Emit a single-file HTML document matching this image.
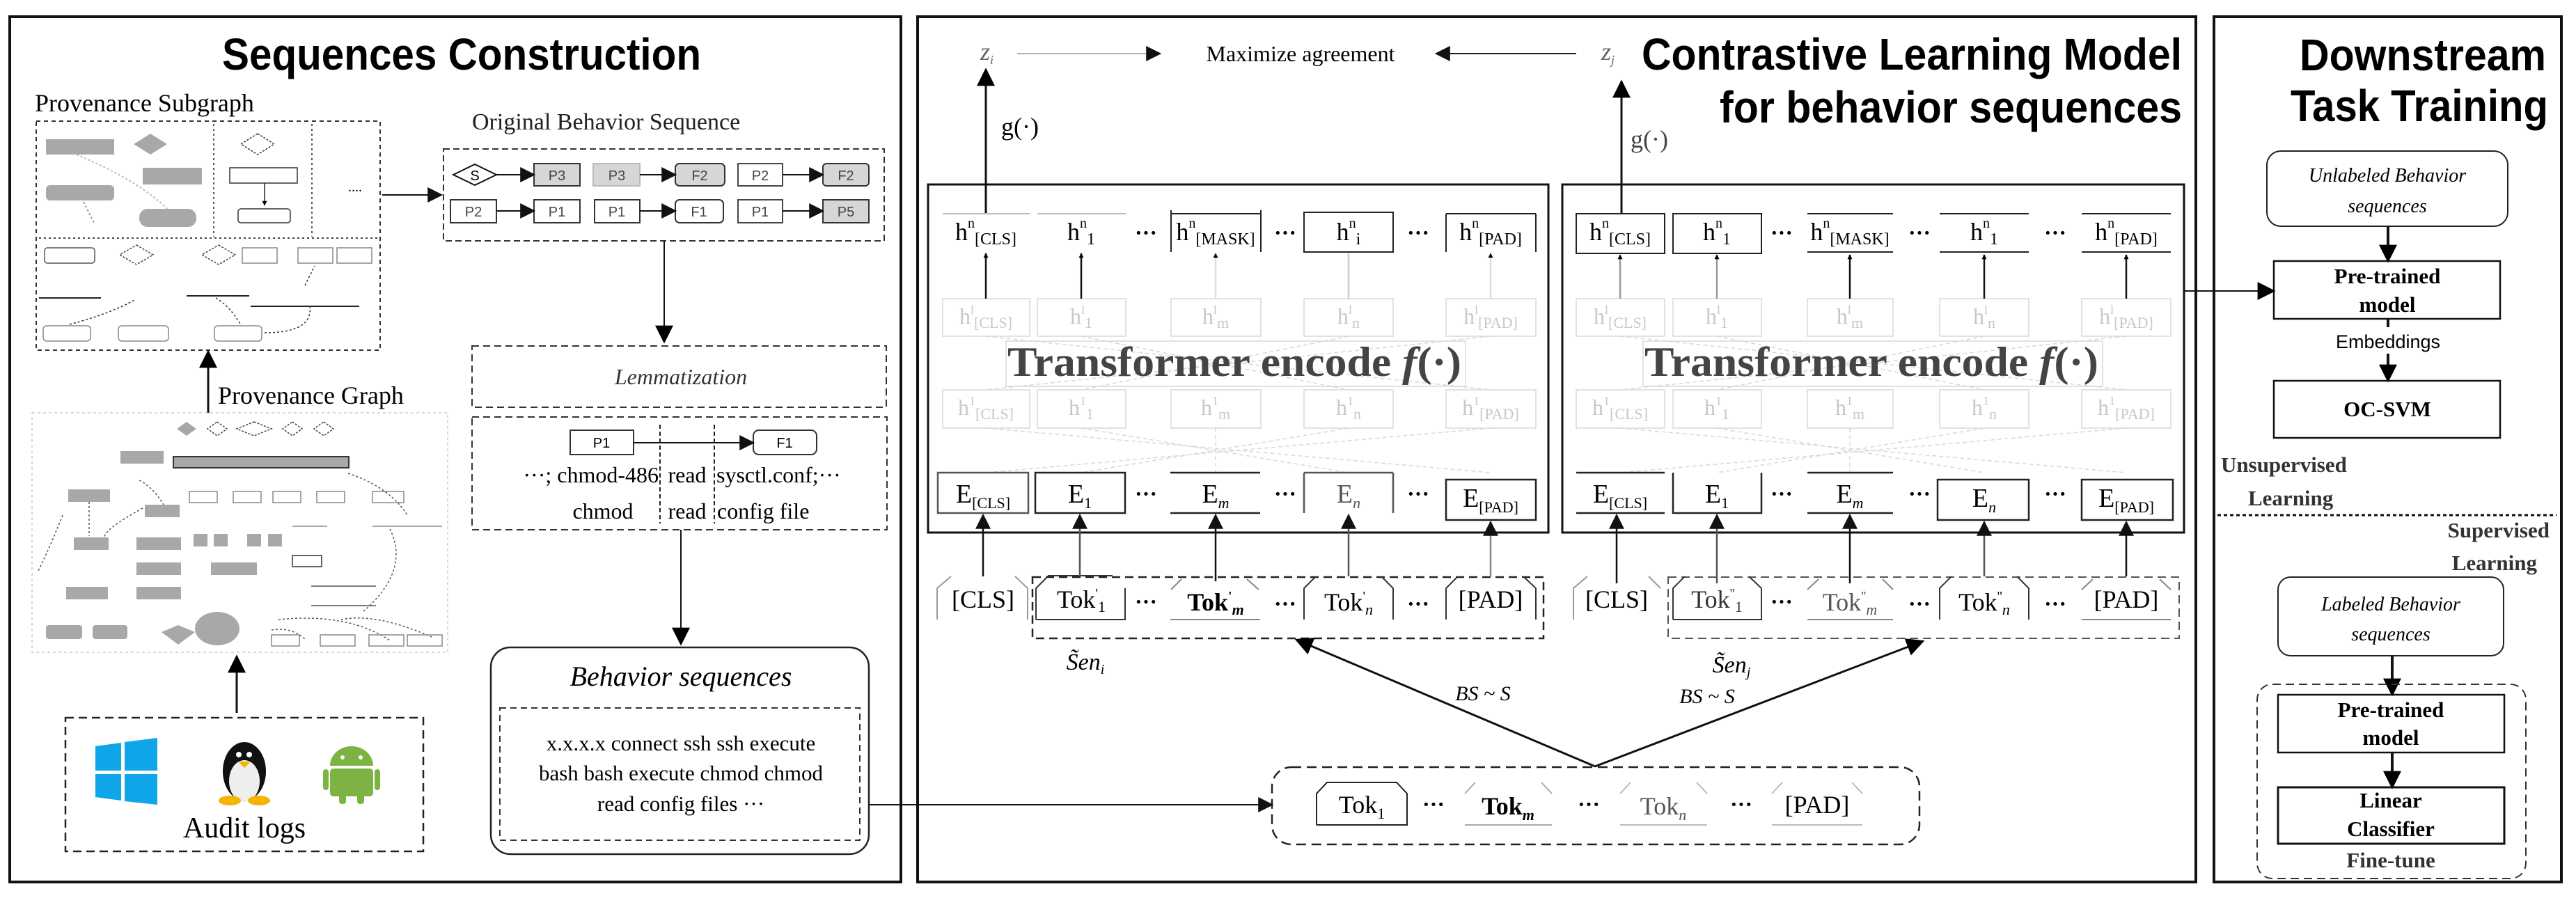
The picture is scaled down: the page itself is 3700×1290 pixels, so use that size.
<!DOCTYPE html>
<html><head><meta charset="utf-8"><style>
html,body{margin:0;padding:0;background:#fff}
svg{display:block}
.s{font-family:"Liberation Serif",serif}
.a{font-family:"Liberation Sans",sans-serif}
</style></head><body>
<svg width="3700" height="1290" viewBox="0 0 3700 1290" xmlns="http://www.w3.org/2000/svg">
<defs>
<marker id="ar" viewBox="0 0 10 10" refX="9" refY="5" markerWidth="7" markerHeight="7" markerUnits="userSpaceOnUse" orient="auto"><path d="M0,0L10,5L0,10z" fill="#000"/></marker>
<marker id="ab" viewBox="0 0 10 10" refX="9" refY="5" markerWidth="26" markerHeight="26" markerUnits="userSpaceOnUse" orient="auto"><path d="M0,0L10,5L0,10z" fill="#000"/></marker>
<marker id="ag" viewBox="0 0 10 10" refX="9" refY="5" markerWidth="22" markerHeight="22" markerUnits="userSpaceOnUse" orient="auto"><path d="M0,0L10,5L0,10z" fill="#111"/></marker>
</defs>
<rect width="3700" height="1290" fill="#fff"/>

<!-- PANELS -->
<rect x="14" y="24" width="1280" height="1243" fill="none" stroke="#111" stroke-width="4"/>
<rect x="1318" y="24" width="1836" height="1243" fill="none" stroke="#111" stroke-width="4"/>
<rect x="3180" y="24" width="499" height="1243" fill="none" stroke="#111" stroke-width="4"/>

<!-- ============ PANEL 1 ============ -->
<text x="663" y="100" class="a" font-size="64" font-weight="bold" text-anchor="middle" textLength="688" lengthAdjust="spacingAndGlyphs">Sequences Construction</text>

<text x="50" y="160" class="s" font-size="36">Provenance Subgraph</text>
<rect x="52" y="174" width="494" height="329" fill="none" stroke="#333" stroke-width="2" stroke-dasharray="6,5"/>
<line x1="307" y1="178" x2="307" y2="340" stroke="#555" stroke-width="2" stroke-dasharray="3,4"/>
<line x1="448" y1="178" x2="448" y2="340" stroke="#555" stroke-width="2" stroke-dasharray="3,4"/>
<line x1="56" y1="342" x2="544" y2="342" stroke="#444" stroke-width="2" stroke-dasharray="3,4"/>
<!-- subgraph shapes -->
<rect x="66" y="200" width="98" height="22" fill="#a8a8a8"/>
<polygon points="216,192 240,207 216,222 192,207" fill="#a8a8a8"/>
<rect x="205" y="241" width="85" height="24" fill="#a8a8a8"/>
<rect x="66" y="266" width="98" height="22" rx="6" fill="#a8a8a8"/>
<rect x="200" y="300" width="82" height="26" rx="12" fill="#a8a8a8"/>
<path d="M110,222 Q200,260 240,300" fill="none" stroke="#bbb" stroke-width="2" stroke-dasharray="3,3"/>
<path d="M120,290 Q130,310 135,320" fill="none" stroke="#999" stroke-width="2" stroke-dasharray="3,3"/>
<polygon points="370,192 394,207 370,222 346,207" fill="none" stroke="#333" stroke-width="1.5" stroke-dasharray="3,2"/>
<rect x="330" y="241" width="97" height="22" fill="none" stroke="#333" stroke-width="1.5"/>
<line x1="380" y1="263" x2="380" y2="295" stroke="#222" stroke-width="1.5" marker-end="url(#ar)"/>
<rect x="342" y="300" width="75" height="20" rx="4" fill="none" stroke="#333" stroke-width="1.5"/>
<text x="500" y="275" class="s" font-size="20">....</text>
<rect x="64" y="356" width="72" height="22" rx="4" fill="none" stroke="#555" stroke-width="1.5"/>
<polygon points="196,352 220,366 196,380 172,366" fill="none" stroke="#444" stroke-width="1.5" stroke-dasharray="3,2"/>
<polygon points="314,352 338,366 314,380 290,366" fill="none" stroke="#444" stroke-width="1.5" stroke-dasharray="3,2"/>
<rect x="348" y="356" width="50" height="22" fill="none" stroke="#888" stroke-width="1.5"/>
<rect x="428" y="356" width="50" height="22" fill="none" stroke="#888" stroke-width="1.5"/>
<rect x="484" y="356" width="50" height="22" fill="none" stroke="#888" stroke-width="1.5"/>
<line x1="56" y1="428" x2="145" y2="428" stroke="#222" stroke-width="2"/>
<line x1="268" y1="425" x2="358" y2="425" stroke="#222" stroke-width="2"/>
<line x1="360" y1="440" x2="516" y2="440" stroke="#222" stroke-width="2"/>
<rect x="62" y="468" width="68" height="22" rx="5" fill="none" stroke="#888" stroke-width="1.5"/>
<rect x="170" y="468" width="72" height="22" rx="5" fill="none" stroke="#888" stroke-width="1.5"/>
<rect x="308" y="468" width="68" height="22" rx="5" fill="none" stroke="#888" stroke-width="1.5"/>
<path d="M100,466 Q160,450 195,430" fill="none" stroke="#333" stroke-width="1.5" stroke-dasharray="3,3"/>
<path d="M380,478 Q450,478 445,440" fill="none" stroke="#333" stroke-width="1.5" stroke-dasharray="3,3"/>
<path d="M310,428 Q330,440 345,465" fill="none" stroke="#333" stroke-width="1.5" stroke-dasharray="3,3"/>
<line x1="438" y1="410" x2="452" y2="382" stroke="#333" stroke-width="1.5" stroke-dasharray="3,3"/>

<line x1="549" y1="280" x2="634" y2="280" stroke="#111" stroke-width="2" marker-end="url(#ag)"/>

<text x="678" y="186" class="s" font-size="34" fill="#222">Original Behavior Sequence</text>
<rect x="637" y="214" width="633" height="132" fill="none" stroke="#333" stroke-width="2" stroke-dasharray="9,5"/>
<!-- row1 -->
<polygon points="651,251 682,236 713,251 682,266" fill="none" stroke="#111" stroke-width="2"/>
<text x="682" y="259" class="a" font-size="20" text-anchor="middle">S</text>
<rect x="767" y="235" width="66" height="32" fill="#d6d6d6" stroke="#333" stroke-width="2"/><text x="800" y="259" class="a" font-size="20" text-anchor="middle" fill="#444">P3</text>
<rect x="852" y="235" width="67" height="32" fill="#d6d6d6" stroke="#bbb" stroke-width="2"/><text x="886" y="259" class="a" font-size="20" text-anchor="middle" fill="#444">P3</text>
<rect x="970" y="235" width="71" height="32" rx="6" fill="#d6d6d6" stroke="#333" stroke-width="2"/><text x="1005" y="259" class="a" font-size="20" text-anchor="middle" fill="#444">F2</text>
<rect x="1060" y="235" width="64" height="32" fill="#fff" stroke="#444" stroke-width="2"/><text x="1092" y="259" class="a" font-size="20" text-anchor="middle" fill="#444">P2</text>
<rect x="1182" y="235" width="66" height="32" rx="5" fill="#d6d6d6" stroke="#333" stroke-width="2"/><text x="1215" y="259" class="a" font-size="20" text-anchor="middle" fill="#444">F2</text>
<line x1="713" y1="251" x2="767" y2="251" stroke="#111" stroke-width="2" marker-end="url(#ag)"/>
<line x1="919" y1="251" x2="970" y2="251" stroke="#111" stroke-width="2" marker-end="url(#ag)"/>
<line x1="1124" y1="251" x2="1182" y2="251" stroke="#111" stroke-width="2" marker-end="url(#ag)"/>
<!-- row2 -->
<rect x="647" y="287" width="66" height="33" fill="#fff" stroke="#333" stroke-width="2"/><text x="680" y="311" class="a" font-size="20" text-anchor="middle" fill="#444">P2</text>
<rect x="767" y="287" width="66" height="33" fill="#fff" stroke="#333" stroke-width="2"/><text x="800" y="311" class="a" font-size="20" text-anchor="middle" fill="#444">P1</text>
<rect x="854" y="287" width="65" height="33" fill="#fff" stroke="#333" stroke-width="2"/><text x="886" y="311" class="a" font-size="20" text-anchor="middle" fill="#444">P1</text>
<rect x="970" y="287" width="69" height="33" rx="6" fill="#fff" stroke="#333" stroke-width="2"/><text x="1004" y="311" class="a" font-size="20" text-anchor="middle" fill="#444">F1</text>
<rect x="1060" y="287" width="64" height="33" fill="#fff" stroke="#444" stroke-width="2"/><text x="1092" y="311" class="a" font-size="20" text-anchor="middle" fill="#444">P1</text>
<rect x="1182" y="287" width="66" height="33" fill="#d6d6d6" stroke="#333" stroke-width="2"/><text x="1215" y="311" class="a" font-size="20" text-anchor="middle" fill="#444">P5</text>
<line x1="713" y1="303" x2="767" y2="303" stroke="#111" stroke-width="2" marker-end="url(#ag)"/>
<line x1="919" y1="303" x2="970" y2="303" stroke="#111" stroke-width="2" marker-end="url(#ag)"/>
<line x1="1124" y1="303" x2="1182" y2="303" stroke="#111" stroke-width="2" marker-end="url(#ag)"/>

<line x1="954" y1="346" x2="954" y2="491" stroke="#111" stroke-width="2" marker-end="url(#ab)"/>

<rect x="678" y="497" width="595" height="88" fill="none" stroke="#333" stroke-width="2" stroke-dasharray="10,6"/>
<text x="978" y="552" class="s" font-size="32" font-style="italic" text-anchor="middle" fill="#333">Lemmatization</text>
<rect x="678" y="599" width="596" height="162" fill="none" stroke="#333" stroke-width="2" stroke-dasharray="10,6"/>
<rect x="819" y="618" width="91" height="35" fill="#fff" stroke="#333" stroke-width="2"/><text x="864" y="643" class="a" font-size="20" text-anchor="middle">P1</text>
<rect x="1082" y="618" width="91" height="35" rx="8" fill="#fff" stroke="#333" stroke-width="2"/><text x="1127" y="643" class="a" font-size="20" text-anchor="middle">F1</text>
<line x1="910" y1="636" x2="1082" y2="636" stroke="#111" stroke-width="2" marker-end="url(#ag)"/>
<line x1="948" y1="610" x2="948" y2="752" stroke="#222" stroke-width="2" stroke-dasharray="6,4"/>
<line x1="1026" y1="610" x2="1026" y2="752" stroke="#222" stroke-width="2" stroke-dasharray="6,4"/>
<text x="946" y="693" class="s" font-size="32" text-anchor="end">···; chmod-486</text>
<text x="987" y="693" class="s" font-size="32" text-anchor="middle">read</text>
<text x="1029" y="693" class="s" font-size="32">sysctl.conf;···</text>
<text x="866" y="745" class="s" font-size="32" text-anchor="middle">chmod</text>
<text x="987" y="745" class="s" font-size="32" text-anchor="middle">read</text>
<text x="1030" y="745" class="s" font-size="32">config file</text>

<line x1="978" y1="761" x2="978" y2="925" stroke="#111" stroke-width="2" marker-end="url(#ab)"/>

<rect x="705" y="930" width="543" height="297" rx="28" fill="none" stroke="#222" stroke-width="2.5"/>
<text x="978" y="985" class="s" font-size="40" font-style="italic" text-anchor="middle">Behavior sequences</text>
<rect x="718" y="1017" width="517" height="190" fill="none" stroke="#333" stroke-width="2" stroke-dasharray="9,6"/>
<text x="978" y="1078" class="s" font-size="31" text-anchor="middle">x.x.x.x connect ssh ssh execute</text>
<text x="978" y="1121" class="s" font-size="31" text-anchor="middle">bash bash execute chmod chmod</text>
<text x="978" y="1165" class="s" font-size="31" text-anchor="middle">read config files ···</text>

<!-- provenance graph -->
<line x1="299" y1="593" x2="299" y2="505" stroke="#111" stroke-width="3" marker-end="url(#ab)"/>
<text x="313" y="580" class="s" font-size="36">Provenance Graph</text>
<rect x="46" y="593" width="597" height="344" fill="none" stroke="#ccc" stroke-width="1.5" stroke-dasharray="4,4"/>
<polygon points="268,606 282,616 268,626 254,616" fill="#a8a8a8"/>
<polygon points="312,606 326,616 312,626 298,616" fill="none" stroke="#444" stroke-width="1.5" stroke-dasharray="3,2"/>
<polygon points="365,606 390,616 365,626 340,616" fill="none" stroke="#444" stroke-width="1.5" stroke-dasharray="3,2"/>
<polygon points="420,606 434,616 420,626 406,616" fill="none" stroke="#444" stroke-width="1.5" stroke-dasharray="3,2"/>
<polygon points="465,606 479,616 465,626 451,616" fill="none" stroke="#444" stroke-width="1.5" stroke-dasharray="3,2"/>
<rect x="173" y="648" width="62" height="18" fill="#a8a8a8"/>
<rect x="249" y="656" width="252" height="16" fill="#a8a8a8" stroke="#333" stroke-width="2"/>
<rect x="98" y="703" width="60" height="18" fill="#a8a8a8"/>
<rect x="208" y="725" width="50" height="18" fill="#a8a8a8"/>
<rect x="106" y="772" width="50" height="18" fill="#a8a8a8"/>
<rect x="196" y="772" width="64" height="18" fill="#a8a8a8"/>
<rect x="196" y="808" width="64" height="18" fill="#a8a8a8"/>
<rect x="196" y="843" width="64" height="18" fill="#a8a8a8"/>
<rect x="95" y="843" width="60" height="18" fill="#a8a8a8"/>
<rect x="278" y="767" width="20" height="18" fill="#a8a8a8"/>
<rect x="307" y="767" width="20" height="18" fill="#a8a8a8"/>
<rect x="355" y="767" width="20" height="18" fill="#a8a8a8"/>
<rect x="385" y="767" width="20" height="18" fill="#a8a8a8"/>
<rect x="303" y="808" width="66" height="18" fill="#a8a8a8"/>
<rect x="66" y="898" width="52" height="20" rx="4" fill="#a8a8a8"/>
<rect x="133" y="898" width="50" height="20" rx="4" fill="#a8a8a8"/>
<polygon points="232,908 256,898 280,908 256,926" fill="#a8a8a8"/>
<ellipse cx="312" cy="903" rx="32" ry="24" fill="#a8a8a8"/>
<rect x="272" y="706" width="40" height="16" fill="none" stroke="#888" stroke-width="1.5"/>
<rect x="335" y="706" width="40" height="16" fill="none" stroke="#888" stroke-width="1.5"/>
<rect x="392" y="706" width="40" height="16" fill="none" stroke="#888" stroke-width="1.5"/>
<rect x="455" y="706" width="40" height="16" fill="none" stroke="#888" stroke-width="1.5"/>
<rect x="535" y="706" width="45" height="16" fill="none" stroke="#888" stroke-width="1.5"/>
<rect x="420" y="798" width="42" height="16" fill="none" stroke="#333" stroke-width="1.5"/>
<line x1="420" y1="756" x2="470" y2="756" stroke="#888" stroke-width="1.5"/>
<line x1="535" y1="756" x2="635" y2="756" stroke="#888" stroke-width="1.5"/>
<line x1="447" y1="842" x2="540" y2="842" stroke="#555" stroke-width="1.5"/>
<line x1="447" y1="870" x2="540" y2="870" stroke="#555" stroke-width="1.5"/>
<path d="M200,690 Q220,700 235,725 M128,721 L128,770 M205,730 Q150,760 150,772 M90,740 Q70,790 55,820 M500,680 Q560,700 585,740 M560,760 Q590,820 520,880" fill="none" stroke="#555" stroke-width="1.5" stroke-dasharray="3,3"/>
<path d="M390,905 Q420,900 440,920 M490,890 Q540,880 620,915 M400,890 Q500,880 560,920" fill="none" stroke="#555" stroke-width="1.5" stroke-dasharray="3,3"/>
<rect x="390" y="912" width="40" height="16" fill="none" stroke="#888" stroke-width="1.5"/>
<rect x="460" y="912" width="50" height="16" fill="none" stroke="#888" stroke-width="1.5"/>
<rect x="530" y="912" width="50" height="16" fill="none" stroke="#888" stroke-width="1.5"/>
<rect x="585" y="912" width="50" height="16" fill="none" stroke="#888" stroke-width="1.5"/>
<line x1="340" y1="1024" x2="340" y2="943" stroke="#111" stroke-width="3" marker-end="url(#ab)"/>

<rect x="94" y="1031" width="514" height="192" fill="none" stroke="#222" stroke-width="2.5" stroke-dasharray="12,7"/>
<!-- windows -->
<polygon points="137,1072 174,1067 174,1107 137,1107" fill="#0ea5e9"/>
<polygon points="179,1066 226,1060 226,1107 179,1107" fill="#0ea5e9"/>
<polygon points="137,1112 174,1112 174,1150 137,1145" fill="#0ea5e9"/>
<polygon points="179,1112 226,1112 226,1156 179,1151" fill="#0ea5e9"/>
<!-- penguin -->
<ellipse cx="351" cy="1108" rx="31" ry="42" fill="#111"/>
<ellipse cx="351" cy="1122" rx="22" ry="30" fill="#eee"/>
<circle cx="343" cy="1084" r="4" fill="#fff"/><circle cx="358" cy="1084" r="4" fill="#fff"/>
<polygon points="342,1094 360,1094 351,1103" fill="#f5b400"/>
<ellipse cx="330" cy="1150" rx="16" ry="7" fill="#f5b400"/>
<ellipse cx="372" cy="1150" rx="16" ry="7" fill="#f5b400"/>
<!-- android -->
<path d="M474,1100 A31,28 0 0 1 536,1100 Z" fill="#7cb342"/>
<rect x="474" y="1104" width="62" height="40" rx="5" fill="#7cb342"/>
<rect x="464" y="1105" width="8" height="30" rx="4" fill="#7cb342"/>
<rect x="538" y="1105" width="8" height="30" rx="4" fill="#7cb342"/>
<rect x="487" y="1140" width="10" height="15" rx="4" fill="#7cb342"/>
<rect x="513" y="1140" width="10" height="15" rx="4" fill="#7cb342"/>
<circle cx="492" cy="1088" r="3" fill="#fff"/><circle cx="518" cy="1088" r="3" fill="#fff"/>
<text x="351" y="1203" class="s" font-size="42" text-anchor="middle">Audit logs</text>

<!-- ============ PANEL 2 ============ -->
<text x="2358" y="100" class="a" font-size="64" font-weight="bold" textLength="776" lengthAdjust="spacingAndGlyphs">Contrastive Learning Model</text>
<text x="2470" y="176" class="a" font-size="64" font-weight="bold" textLength="664" lengthAdjust="spacingAndGlyphs">for behavior sequences</text>

<text x="1408" y="86" class="s" font-size="36" font-style="italic" fill="#666">z<tspan font-size="18" dy="6">i</tspan></text>
<line x1="1461" y1="77" x2="1666" y2="77" stroke="#999" stroke-width="1.5" marker-end="url(#ag)"/>
<text x="1868" y="88" class="s" font-size="32" text-anchor="middle">Maximize agreement</text>
<line x1="2264" y1="77" x2="2063" y2="77" stroke="#222" stroke-width="2" marker-end="url(#ag)"/>
<text x="2300" y="86" class="s" font-size="36" font-style="italic" fill="#666">z<tspan font-size="18" dy="6">j</tspan></text>

<line x1="1416" y1="308" x2="1416" y2="100" stroke="#111" stroke-width="3" marker-end="url(#ab)"/>
<text x="1438" y="194" class="s" font-size="36">g(·)</text>
<line x1="2329" y1="308" x2="2329" y2="117" stroke="#111" stroke-width="3" marker-end="url(#ab)"/>
<text x="2342" y="212" class="s" font-size="36" fill="#444">g(·)</text>

<!-- encoder box 1 -->
<rect x="1333" y="265" width="891" height="500" fill="none" stroke="#111" stroke-width="3"/>
<!-- encoder box 2 -->
<rect x="2244" y="265" width="893" height="500" fill="none" stroke="#111" stroke-width="3"/>

<!-- ghost layers box 1 -->
<g stroke="#d8d8d8" stroke-width="1.5" fill="none">
<rect x="1354" y="429" width="125" height="54"/><rect x="1490" y="429" width="127" height="54"/><rect x="1682" y="429" width="129" height="54"/><rect x="1873" y="429" width="128" height="54"/><rect x="2077" y="429" width="129" height="54"/>
<rect x="1354" y="560" width="125" height="55"/><rect x="1490" y="560" width="127" height="55"/><rect x="1682" y="560" width="129" height="55"/><rect x="1873" y="560" width="128" height="55"/><rect x="2077" y="560" width="129" height="55"/>
<rect x="1445" y="490" width="660" height="65"/>
<path d="M1416,483 L2141,560 M2141,483 L1416,560 M1553,483 L1937,560 M1937,483 L1553,560 M1416,615 L2141,679 M2141,615 L1416,679 M1553,615 L1937,679 M1937,615 L1553,679 M1746,615 L1746,679" stroke-dasharray="6,4"/>
</g>
<g stroke="#d8d8d8" stroke-width="1.5" fill="none">
<rect x="2264" y="429" width="127" height="54"/><rect x="2403" y="429" width="127" height="54"/><rect x="2596" y="429" width="123" height="54"/><rect x="2786" y="429" width="128" height="54"/><rect x="2990" y="429" width="128" height="54"/>
<rect x="2264" y="560" width="127" height="55"/><rect x="2403" y="560" width="127" height="55"/><rect x="2596" y="560" width="123" height="55"/><rect x="2786" y="560" width="128" height="55"/><rect x="2990" y="560" width="128" height="55"/>
<rect x="2360" y="490" width="660" height="65"/>
<path d="M2327,483 L3054,560 M3054,483 L2327,560 M2466,483 L2850,560 M2850,483 L2466,560 M2327,615 L3054,679 M3054,615 L2327,679 M2466,615 L2850,679 M2850,615 L2466,679 M2657,615 L2657,679" stroke-dasharray="6,4"/>
</g>
<g class="s" font-size="32" fill="#c8c8c8" text-anchor="middle">
<text x="1416" y="465">h<tspan font-size="18" dy="-14">l</tspan><tspan font-size="22" dy="20">[CLS]</tspan></text>
<text x="1553" y="465">h<tspan font-size="18" dy="-14">l</tspan><tspan font-size="22" dy="20">1</tspan></text>
<text x="1746" y="465">h<tspan font-size="18" dy="-14">l</tspan><tspan font-size="22" dy="20">m</tspan></text>
<text x="1937" y="465">h<tspan font-size="18" dy="-14">l</tspan><tspan font-size="22" dy="20">n</tspan></text>
<text x="2141" y="465">h<tspan font-size="18" dy="-14">l</tspan><tspan font-size="22" dy="20">[PAD]</tspan></text>
<text x="1416" y="596">h<tspan font-size="18" dy="-14">1</tspan><tspan font-size="22" dy="20">[CLS]</tspan></text>
<text x="1553" y="596">h<tspan font-size="18" dy="-14">1</tspan><tspan font-size="22" dy="20">1</tspan></text>
<text x="1746" y="596">h<tspan font-size="18" dy="-14">1</tspan><tspan font-size="22" dy="20">m</tspan></text>
<text x="1937" y="596">h<tspan font-size="18" dy="-14">1</tspan><tspan font-size="22" dy="20">n</tspan></text>
<text x="2141" y="596">h<tspan font-size="18" dy="-14">1</tspan><tspan font-size="22" dy="20">[PAD]</tspan></text>
<text x="2327" y="465">h<tspan font-size="18" dy="-14">l</tspan><tspan font-size="22" dy="20">[CLS]</tspan></text>
<text x="2466" y="465">h<tspan font-size="18" dy="-14">l</tspan><tspan font-size="22" dy="20">1</tspan></text>
<text x="2657" y="465">h<tspan font-size="18" dy="-14">l</tspan><tspan font-size="22" dy="20">m</tspan></text>
<text x="2850" y="465">h<tspan font-size="18" dy="-14">l</tspan><tspan font-size="22" dy="20">n</tspan></text>
<text x="3054" y="465">h<tspan font-size="18" dy="-14">l</tspan><tspan font-size="22" dy="20">[PAD]</tspan></text>
<text x="2327" y="596">h<tspan font-size="18" dy="-14">1</tspan><tspan font-size="22" dy="20">[CLS]</tspan></text>
<text x="2466" y="596">h<tspan font-size="18" dy="-14">1</tspan><tspan font-size="22" dy="20">1</tspan></text>
<text x="2657" y="596">h<tspan font-size="18" dy="-14">1</tspan><tspan font-size="22" dy="20">m</tspan></text>
<text x="2850" y="596">h<tspan font-size="18" dy="-14">1</tspan><tspan font-size="22" dy="20">n</tspan></text>
<text x="3054" y="596">h<tspan font-size="18" dy="-14">1</tspan><tspan font-size="22" dy="20">[PAD]</tspan></text>
</g>
<text x="1773" y="540" class="s" font-size="60" font-weight="bold" fill="#444" text-anchor="middle" textLength="652" lengthAdjust="spacingAndGlyphs">Transformer encode <tspan font-style="italic">f</tspan>(·)</text>
<text x="2688" y="540" class="s" font-size="60" font-weight="bold" fill="#444" text-anchor="middle" textLength="652" lengthAdjust="spacingAndGlyphs">Transformer encode <tspan font-style="italic">f</tspan>(·)</text>

<!-- h^n row box1 -->
<g stroke-width="2" fill="none">
<line x1="1354" y1="307" x2="1479" y2="307" stroke="#bbb"/>
<line x1="1490" y1="307" x2="1617" y2="307" stroke="#bbb"/>
<path d="M1682,302 V362 M1811,302 V362 M1682,307 H1811" stroke="#222"/>
<rect x="1873" y="305" width="128" height="57" stroke="#222"/>
<path d="M2077,307 V362 M2206,307 V362 M2077,307 H2206" stroke="#222"/>
</g>
<g class="s" font-size="36" text-anchor="middle">
<text x="1416" y="345">h<tspan font-size="20" dy="-18">n</tspan><tspan font-size="24" dy="24">[CLS]</tspan></text>
<text x="1553" y="345">h<tspan font-size="20" dy="-18">n</tspan><tspan font-size="24" dy="24">1</tspan></text>
<text x="1746" y="345">h<tspan font-size="20" dy="-18">n</tspan><tspan font-size="24" dy="24">[MASK]</tspan></text>
<text x="1937" y="345">h<tspan font-size="20" dy="-18">n</tspan><tspan font-size="24" dy="24">i</tspan></text>
<text x="2141" y="345">h<tspan font-size="20" dy="-18">n</tspan><tspan font-size="24" dy="24">[PAD]</tspan></text>
</g>
<!-- h^n row box2 -->
<g stroke-width="2" fill="none" stroke="#222">
<rect x="2264" y="307" width="127" height="57"/>
<rect x="2403" y="307" width="127" height="57"/>
<path d="M2596,307 H2719 M2596,362 H2719"/>
<path d="M2786,307 H2914 M2786,362 H2914"/>
<path d="M2990,307 H3118 M2990,362 H3118"/>
</g>
<g class="s" font-size="36" text-anchor="middle">
<text x="2327" y="345">h<tspan font-size="20" dy="-18">n</tspan><tspan font-size="24" dy="24">[CLS]</tspan></text>
<text x="2466" y="345">h<tspan font-size="20" dy="-18">n</tspan><tspan font-size="24" dy="24">1</tspan></text>
<text x="2657" y="345">h<tspan font-size="20" dy="-18">n</tspan><tspan font-size="24" dy="24">[MASK]</tspan></text>
<text x="2850" y="345">h<tspan font-size="20" dy="-18">n</tspan><tspan font-size="24" dy="24">1</tspan></text>
<text x="3054" y="345">h<tspan font-size="20" dy="-18">n</tspan><tspan font-size="24" dy="24">[PAD]</tspan></text>
</g>
<g class="s" font-size="32" font-weight="bold" text-anchor="middle">
<text x="1646" y="345">···</text><text x="1846" y="345">···</text><text x="2037" y="345">···</text>
<text x="2559" y="345">···</text><text x="2757" y="345">···</text><text x="2952" y="345">···</text>
</g>
<!-- arrows ghost->h^n -->
<g stroke-width="2.5">
<line x1="1416" y1="429" x2="1416" y2="364" stroke="#111" marker-end="url(#ar)"/>
<line x1="1553" y1="429" x2="1553" y2="364" stroke="#111" marker-end="url(#ar)"/>
<line x1="1746" y1="429" x2="1746" y2="364" stroke="#ddd" marker-end="url(#ar)"/>
<line x1="1937" y1="429" x2="1937" y2="364" stroke="#ccc"/>
<line x1="2141" y1="429" x2="2141" y2="364" stroke="#ddd" marker-end="url(#ar)"/>
<line x1="2327" y1="429" x2="2327" y2="366" stroke="#999" marker-end="url(#ar)"/>
<line x1="2466" y1="429" x2="2466" y2="366" stroke="#999" marker-end="url(#ar)"/>
<line x1="2657" y1="429" x2="2657" y2="366" stroke="#111" marker-end="url(#ar)"/>
<line x1="2850" y1="429" x2="2850" y2="366" stroke="#111" marker-end="url(#ar)"/>
<line x1="3054" y1="429" x2="3054" y2="366" stroke="#111" marker-end="url(#ar)"/>
</g>

<!-- E rows -->
<g fill="none" stroke-width="2.5" stroke="#222">
<rect x="1347" y="679" width="130" height="58" stroke="#555"/>
<rect x="1487" y="679" width="129" height="58"/>
<path d="M1681,679 H1810 M1681,737 H1810"/>
<path d="M1873,679 H2001 M1873,679 V737 M2001,679 V737" stroke="#555"/>
<rect x="2077" y="689" width="129" height="58"/>
<path d="M2264,679 H2391 M2264,737 H2391"/>
<path d="M2403,679 V737 H2530 V679" />
<path d="M2596,679 H2719 M2596,737 H2719"/>
<rect x="2783" y="689" width="131" height="58"/>
<rect x="2990" y="689" width="131" height="58"/>
</g>
<g class="s" font-size="38" text-anchor="middle">
<text x="1412" y="722">E<tspan font-size="22" dy="8">[CLS]</tspan></text>
<text x="1551" y="722">E<tspan font-size="22" dy="8">1</tspan></text>
<text x="1746" y="722">E<tspan font-size="22" dy="8" font-style="italic">m</tspan></text>
<text x="1937" y="722" fill="#555">E<tspan font-size="22" dy="8" font-style="italic">n</tspan></text>
<text x="2141" y="728">E<tspan font-size="22" dy="8">[PAD]</tspan></text>
<text x="2327" y="722">E<tspan font-size="22" dy="8">[CLS]</tspan></text>
<text x="2466" y="722">E<tspan font-size="22" dy="8">1</tspan></text>
<text x="2657" y="722">E<tspan font-size="22" dy="8" font-style="italic">m</tspan></text>
<text x="2850" y="728">E<tspan font-size="22" dy="8" font-style="italic">n</tspan></text>
<text x="3054" y="728">E<tspan font-size="22" dy="8">[PAD]</tspan></text>
</g>
<g class="s" font-size="32" font-weight="bold" text-anchor="middle">
<text x="1646" y="720">···</text><text x="1846" y="720">···</text><text x="2037" y="720">···</text>
<text x="2559" y="720">···</text><text x="2757" y="720">···</text><text x="2952" y="720">···</text>
</g>

<!-- token rows -->
<rect x="1483" y="829" width="734" height="88" fill="none" stroke="#222" stroke-width="2.5" stroke-dasharray="12,7"/>
<rect x="2396" y="829" width="734" height="88" fill="none" stroke="#555" stroke-width="2" stroke-dasharray="12,7"/>
<g fill="none" stroke-width="2">
<path d="M1346,890 V845 L1366,828 M1458,828 L1476,845 V890" stroke="#999"/>
<path d="M1488,890 V845 L1506,827 H1598 M1616,845 V890 H1488" stroke="#333"/>
<path d="M1681,890 H1810 M1697,832 L1682,847 M1791,832 L1808,847" stroke="#888"/>
<path d="M1873,890 V845 L1890,828 M1984,828 L2001,845 V890" stroke="#333"/>
<path d="M2077,890 V845 L2094,828 M2188,828 L2206,845 V890" stroke="#333"/>
<path d="M2260,890 V845 L2280,828 M2368,828 L2385,845" stroke="#999"/>
<path d="M2403,890 V845 L2420,828 M2512,828 L2530,845 V890 H2403" stroke="#333"/>
<path d="M2596,890 H2719 M2612,832 L2596,847 M2704,832 L2719,847" stroke="#888"/>
<path d="M2786,890 V845 L2803,828 M2897,828 L2914,845 V890" stroke="#333"/>
<path d="M2990,890 H3118 M3006,832 L2990,847 M3102,832 L3118,847" stroke="#888"/>
</g>
<g class="s" font-size="36" text-anchor="middle">
<text x="1412" y="873">[CLS]</text>
<text x="1553" y="873">Tok<tspan font-size="20" dy="-14">'</tspan><tspan font-size="22" dy="20">1</tspan></text>
<text x="1746" y="877" font-weight="bold">Tok<tspan font-size="20" dy="-14">'</tspan><tspan font-size="22" dy="20" font-style="italic">m</tspan></text>
<text x="1937" y="877">Tok<tspan font-size="20" dy="-14">'</tspan><tspan font-size="22" dy="20" font-style="italic">n</tspan></text>
<text x="2141" y="873">[PAD]</text>
<text x="2322" y="873">[CLS]</text>
<text x="2466" y="873" fill="#333">Tok<tspan font-size="20" dy="-14">''</tspan><tspan font-size="22" dy="20">1</tspan></text>
<text x="2657" y="877" fill="#555">Tok<tspan font-size="20" dy="-14">''</tspan><tspan font-size="22" dy="20" font-style="italic">m</tspan></text>
<text x="2850" y="877">Tok<tspan font-size="20" dy="-14">''</tspan><tspan font-size="22" dy="20" font-style="italic">n</tspan></text>
<text x="3054" y="873">[PAD]</text>
</g>
<g class="s" font-size="32" font-weight="bold" text-anchor="middle">
<text x="1646" y="875">···</text><text x="1846" y="878">···</text><text x="2037" y="878">···</text>
<text x="2559" y="875">···</text><text x="2757" y="878">···</text><text x="2952" y="878">···</text>
</g>
<!-- token -> E arrows -->
<g stroke-width="2.5">
<line x1="1412" y1="828" x2="1412" y2="740" stroke="#111" marker-end="url(#ag)"/>
<line x1="1551" y1="828" x2="1551" y2="740" stroke="#555" marker-end="url(#ag)"/>
<line x1="1746" y1="835" x2="1746" y2="740" stroke="#111" marker-end="url(#ag)"/>
<line x1="1937" y1="828" x2="1937" y2="740" stroke="#555" marker-end="url(#ag)"/>
<line x1="2141" y1="828" x2="2141" y2="750" stroke="#888" marker-end="url(#ag)"/>
<line x1="2322" y1="838" x2="2322" y2="740" stroke="#111" marker-end="url(#ag)"/>
<line x1="2466" y1="838" x2="2466" y2="740" stroke="#555" marker-end="url(#ag)"/>
<line x1="2657" y1="838" x2="2657" y2="740" stroke="#111" marker-end="url(#ag)"/>
<line x1="2850" y1="828" x2="2850" y2="750" stroke="#555" marker-end="url(#ag)"/>
<line x1="3054" y1="828" x2="3054" y2="750" stroke="#111" marker-end="url(#ag)"/>
</g>

<text x="1559" y="962" class="s" font-size="34" font-style="italic" text-anchor="middle">S̃en<tspan font-size="20" dy="6">i</tspan></text>
<text x="2487" y="966" class="s" font-size="34" font-style="italic" text-anchor="middle">S̃en<tspan font-size="20" dy="6">j</tspan></text>
<text x="2130" y="1006" class="s" font-size="30" font-style="italic" text-anchor="middle">BS ~ S</text>
<text x="2452" y="1010" class="s" font-size="30" font-style="italic" text-anchor="middle">BS ~ S</text>
<line x1="2291" y1="1101" x2="1862" y2="919" stroke="#111" stroke-width="3" marker-end="url(#ab)"/>
<line x1="2291" y1="1101" x2="2762" y2="921" stroke="#111" stroke-width="3" marker-end="url(#ab)"/>

<rect x="1827" y="1102" width="930" height="111" rx="28" fill="none" stroke="#222" stroke-width="2.5" stroke-dasharray="14,8"/>
<g fill="none" stroke-width="2">
<path d="M1891,1185 V1140 L1906,1124 H2006 L2021,1140 V1185 H1891" stroke="#222"/>
<path d="M2104,1185 H2229 M2104,1140 L2119,1124 M2214,1124 L2229,1140" stroke="#aaa"/>
<path d="M2327,1140 L2342,1124 M2437,1124 L2452,1140 M2327,1185 H2452" stroke="#bbb"/>
<path d="M2545,1185 H2675 M2545,1140 L2560,1124 M2660,1124 L2675,1140" stroke="#bbb"/>
</g>
<g class="s" font-size="36" text-anchor="middle">
<text x="1956" y="1168">Tok<tspan font-size="22" dy="8">1</tspan></text>
<text x="2166" y="1170" font-weight="bold">Tok<tspan font-size="22" dy="8" font-style="italic">m</tspan></text>
<text x="2389" y="1170" fill="#555">Tok<tspan font-size="22" dy="8" font-style="italic">n</tspan></text>
<text x="2610" y="1168">[PAD]</text>
</g>
<g class="s" font-size="32" font-weight="bold" text-anchor="middle">
<text x="2059" y="1166">···</text><text x="2282" y="1166">···</text><text x="2501" y="1166">···</text>
</g>
<line x1="1248" y1="1156" x2="1827" y2="1156" stroke="#111" stroke-width="2" marker-end="url(#ag)"/>

<!-- ============ PANEL 3 ============ -->
<text x="3480" y="101" class="a" font-size="64" font-weight="bold" text-anchor="middle" textLength="354" lengthAdjust="spacingAndGlyphs">Downstream</text>
<text x="3475" y="174" class="a" font-size="64" font-weight="bold" text-anchor="middle" textLength="370" lengthAdjust="spacingAndGlyphs">Task Training</text>

<rect x="3256" y="217" width="346" height="108" rx="20" fill="none" stroke="#222" stroke-width="2"/>
<text x="3429" y="261" class="s" font-size="28" font-style="italic" text-anchor="middle">Unlabeled Behavior</text>
<text x="3429" y="305" class="s" font-size="28" font-style="italic" text-anchor="middle">sequences</text>
<line x1="3430" y1="325" x2="3430" y2="375" stroke="#111" stroke-width="4" marker-end="url(#ab)"/>
<rect x="3266" y="375" width="325" height="83" fill="none" stroke="#111" stroke-width="2.5"/>
<text x="3429" y="407" class="s" font-size="31" font-weight="bold" text-anchor="middle">Pre-trained</text>
<text x="3429" y="448" class="s" font-size="31" font-weight="bold" text-anchor="middle">model</text>
<line x1="3137" y1="418" x2="3266" y2="418" stroke="#111" stroke-width="2" marker-end="url(#ab)"/>
<line x1="3430" y1="458" x2="3430" y2="470" stroke="#111" stroke-width="4"/>
<text x="3430" y="500" class="a" font-size="27" text-anchor="middle">Embeddings</text>
<line x1="3430" y1="508" x2="3430" y2="547" stroke="#111" stroke-width="4" marker-end="url(#ab)"/>
<rect x="3266" y="547" width="325" height="82" fill="none" stroke="#111" stroke-width="2.5"/>
<text x="3429" y="598" class="s" font-size="31" font-weight="bold" text-anchor="middle">OC-SVM</text>
<text x="3190" y="678" class="s" font-size="31" font-weight="bold" fill="#333">Unsupervised</text>
<text x="3229" y="726" class="s" font-size="31" font-weight="bold" fill="#333">Learning</text>
<line x1="3185" y1="740" x2="3672" y2="740" stroke="#111" stroke-width="3" stroke-dasharray="5,4"/>
<text x="3662" y="772" class="s" font-size="31" font-weight="bold" fill="#333" text-anchor="end">Supervised</text>
<text x="3644" y="819" class="s" font-size="31" font-weight="bold" fill="#333" text-anchor="end">Learning</text>
<rect x="3272" y="829" width="324" height="113" rx="18" fill="none" stroke="#222" stroke-width="2"/>
<text x="3434" y="877" class="s" font-size="28" font-style="italic" text-anchor="middle">Labeled Behavior</text>
<text x="3434" y="920" class="s" font-size="28" font-style="italic" text-anchor="middle">sequences</text>
<line x1="3436" y1="942" x2="3436" y2="998" stroke="#111" stroke-width="4" marker-end="url(#ab)"/>
<rect x="3242" y="983" width="386" height="279" rx="22" fill="none" stroke="#333" stroke-width="2" stroke-dasharray="12,7"/>
<rect x="3272" y="998" width="325" height="83" fill="none" stroke="#111" stroke-width="2.5"/>
<text x="3434" y="1030" class="s" font-size="31" font-weight="bold" text-anchor="middle">Pre-trained</text>
<text x="3434" y="1070" class="s" font-size="31" font-weight="bold" text-anchor="middle">model</text>
<line x1="3436" y1="1081" x2="3436" y2="1131" stroke="#111" stroke-width="4" marker-end="url(#ab)"/>
<rect x="3272" y="1131" width="325" height="81" fill="none" stroke="#111" stroke-width="3"/>
<text x="3434" y="1160" class="s" font-size="31" font-weight="bold" text-anchor="middle">Linear</text>
<text x="3434" y="1201" class="s" font-size="31" font-weight="bold" text-anchor="middle">Classifier</text>
<text x="3434" y="1246" class="s" font-size="31" font-weight="bold" fill="#333" text-anchor="middle">Fine-tune</text>
</svg>
</body></html>
